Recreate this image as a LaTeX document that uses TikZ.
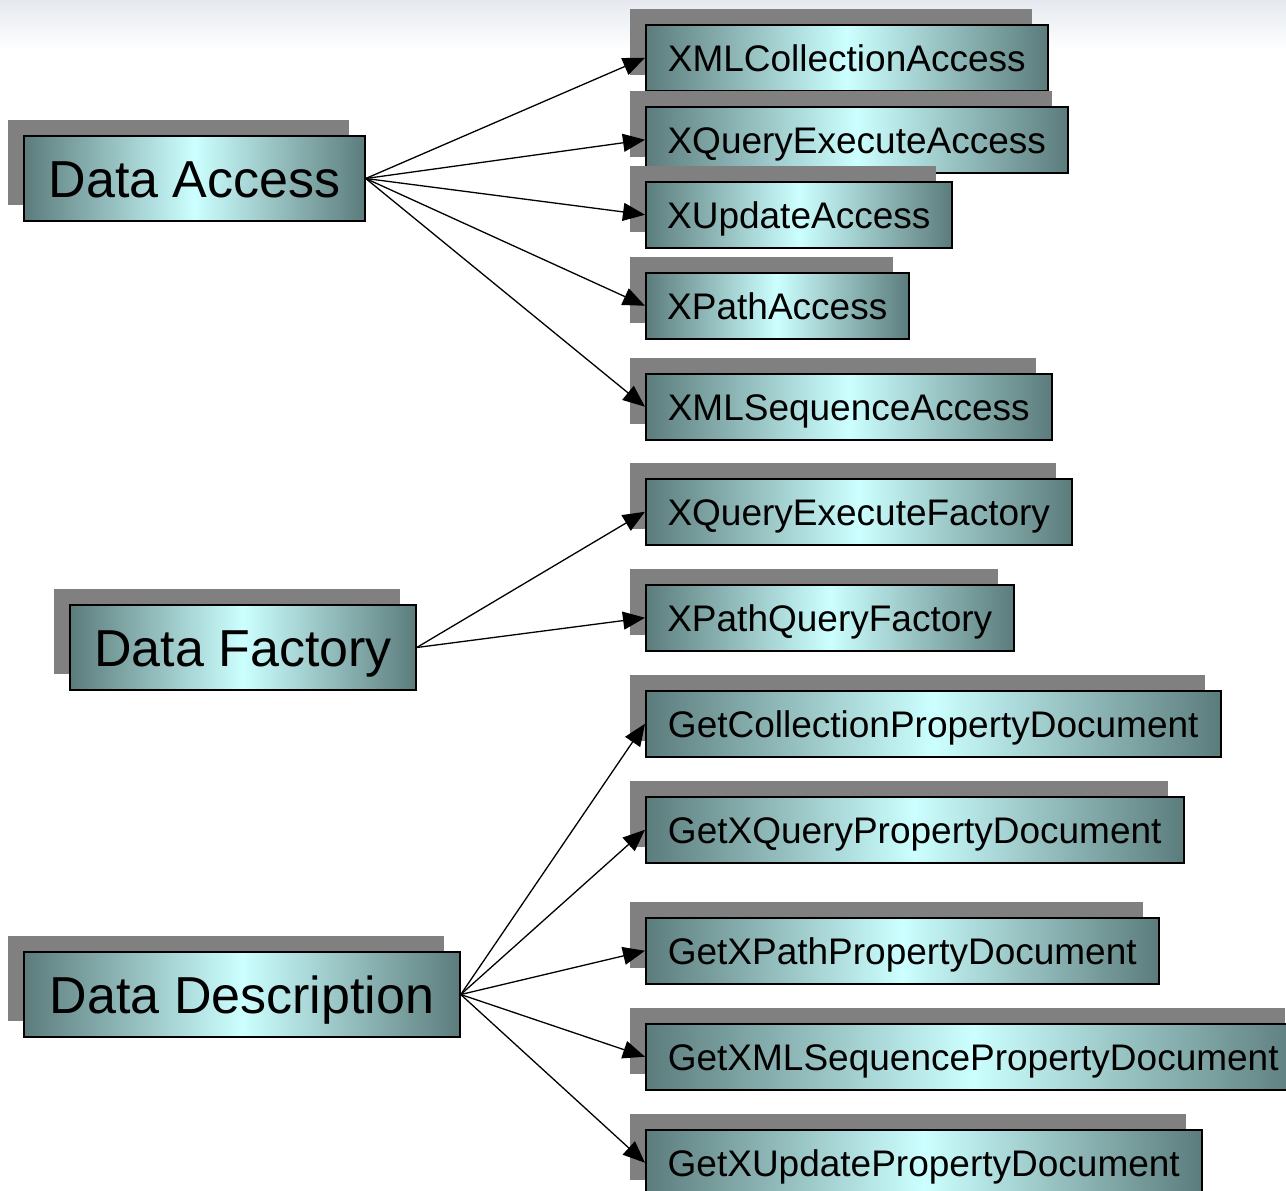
\documentclass[tikz,border=0pt]{standalone}
\usepackage{fontspec}
\setmainfont{Liberation Sans}
\usetikzlibrary{arrows.meta,shadows}
\definecolor{boxdark}{RGB}{92,124,124}
\definecolor{boxlight}{RGB}{204,255,255}
\definecolor{shadowgray}{RGB}{128,128,128}
\definecolor{bandtop}{RGB}{229,233,239}
\tikzset{
  boxbase/.style={draw=black, line width=1.5pt, rectangle, inner sep=0pt,
    left color=boxdark, right color=boxdark, middle color=boxlight,
    general shadow={fill=shadowgray, shadow xshift=-16pt, shadow yshift=16pt}},
  bigbox/.style={boxbase, minimum height=85pt, font=\fontsize{52}{60}\selectfont,
    text height=37.2pt, text depth=0pt},
  smallbox/.style={boxbase, anchor=north west, minimum height=66pt,
    font=\fontsize{37}{44}\selectfont, text height=26.5pt, text depth=0pt},
  link/.style={line width=1.3pt, -{Triangle[length=22pt,width=18pt]}}
}
\begin{document}
\begin{tikzpicture}[x=1pt,y=-1pt]
\useasboundingbox (0,0) rectangle (1286,1191);
\clip (0,0) rectangle (1286,1191);
\fill[white] (0,0) rectangle (1286,1191);
\shade[top color=bandtop, bottom color=white] (0,0) rectangle (1286,50);

% source nodes
\node[bigbox, minimum width=341pt] (acc) at (194.5,178.5) {Data Access};
\node[bigbox, minimum width=346pt] (fac) at (243,647.5) {Data Factory};
\node[bigbox, minimum width=436pt] (desc) at (242,994.5) {Data Description};

% target nodes
\node[smallbox, minimum width=402pt] (a1) at (645,24) {XMLCollectionAccess};
\node[smallbox, minimum width=422pt] (a2) at (645,106) {XQueryExecuteAccess};
\node[smallbox, minimum width=306pt] (a3) at (645,181) {XUpdateAccess};
\node[smallbox, minimum width=263pt] (a4) at (645,272) {XPathAccess};
\node[smallbox, minimum width=406pt] (a5) at (645,373) {XMLSequenceAccess};

\node[smallbox, minimum width=426pt] (f1) at (645,478) {XQueryExecuteFactory};
\node[smallbox, minimum width=368pt] (f2) at (645,584) {XPathQueryFactory};

\node[smallbox, minimum width=575pt] (d1) at (645,690) {GetCollectionPropertyDocument};
\node[smallbox, minimum width=538pt] (d2) at (645,796) {GetXQueryPropertyDocument};
\node[smallbox, minimum width=513pt] (d3) at (645,917) {GetXPathPropertyDocument};
\node[smallbox, minimum width=655pt] (d4) at (645,1023) {GetXMLSequencePropertyDocument};
\node[smallbox, minimum width=556pt] (d5) at (645,1129) {GetXUpdatePropertyDocument};

% connectors
\foreach \t in {a1,a2,a3,a4,a5} \draw[link] (acc.east) -- (\t.west);
\foreach \t in {f1,f2} \draw[link] (fac.east) -- (\t.west);
\foreach \t in {d1,d2,d3,d4,d5} \draw[link] (desc.east) -- (\t.west);
\end{tikzpicture}
\end{document}
